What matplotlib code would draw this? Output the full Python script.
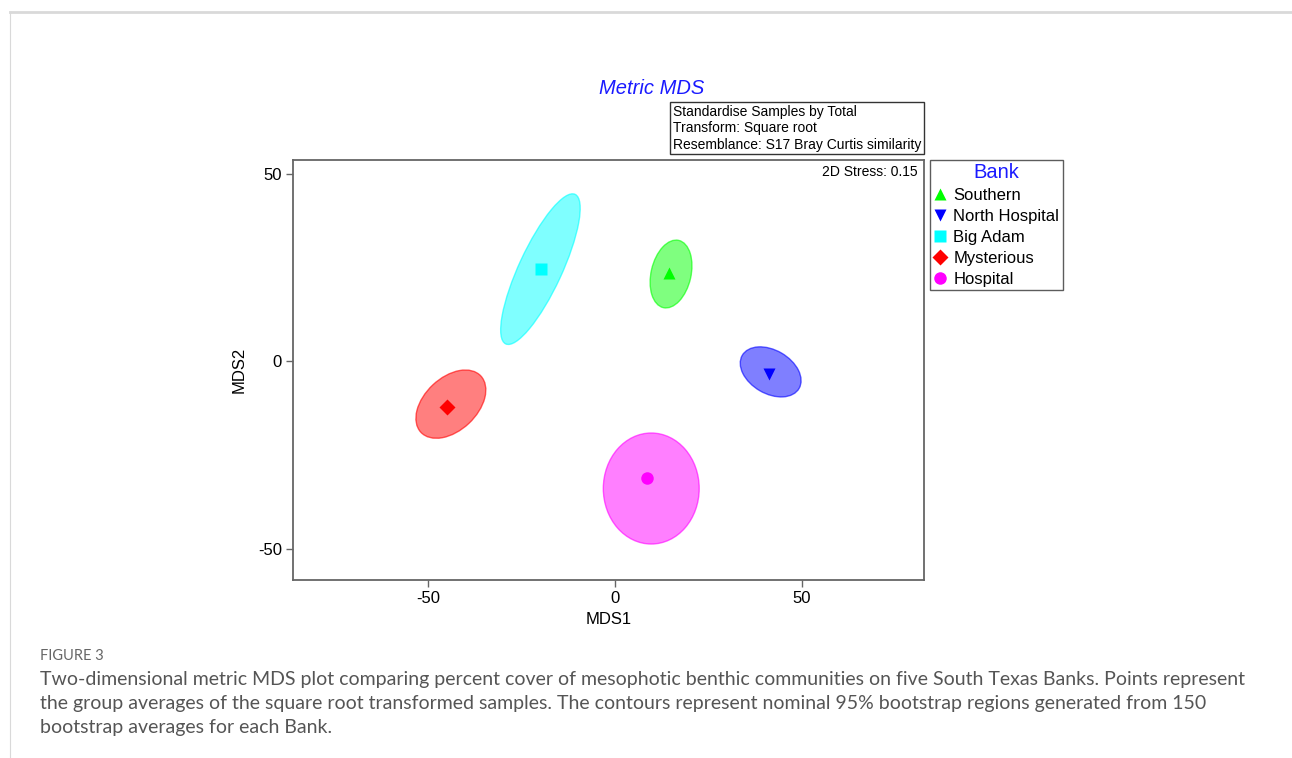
import numpy as np
import matplotlib
matplotlib.use("Agg")
import matplotlib.pyplot as plt
from matplotlib.patches import Ellipse
from matplotlib.lines import Line2D

plt.rcParams['font.family'] = ['Liberation Sans', 'DejaVu Sans']
plt.rcParams['axes.unicode_minus'] = False

# group averages (MDS1, MDS2)
banks = ["Southern", "North Hospital", "Big Adam", "Mysterious", "Hospital"]
mds1 = [14.5, 41.3, -19.8, -45.0, 8.6]
mds2 = [23.5, -3.5, 24.5, -12.3, -31.2]
colors = ["#00ff00", "#0000ff", "#00ffff", "#ff0000", "#ff00ff"]
markers = ["^", "v", "s", "D", "o"]

# bootstrap regions approximated as ellipses: centre, full width, full height, angle
reg_x = [15.0, 41.7, -20.0, -44.0, 9.7]
reg_y = [23.2, -2.9, 24.5, -11.5, -34.0]
reg_w = [18.4, 17.6, 44.0, 22.0, 25.7]
reg_h = [10.7, 11.6, 11.5, 14.1, 29.6]
reg_ang = [77, -30, 65, 43, 0]

fig = plt.figure(figsize=(12.92, 7.58), dpi=100)
ax = fig.add_axes([0.2268, 0.2348, 0.4884, 0.5541])

for i in range(len(banks)):
    e = Ellipse((reg_x[i], reg_y[i]), reg_w[i], reg_h[i], angle=reg_ang[i],
                facecolor=colors[i], alpha=0.5, edgecolor="none", zorder=1)
    ax.add_patch(e)
    e2 = Ellipse((reg_x[i], reg_y[i]), reg_w[i], reg_h[i], angle=reg_ang[i],
                 facecolor="none", edgecolor=colors[i], alpha=0.6, lw=1, zorder=2)
    ax.add_patch(e2)
    ms = 8 if markers[i] == "D" else 9
    ax.plot(mds1[i], mds2[i], marker=markers[i], color=colors[i], ms=ms,
            ls="none", mec="none", zorder=3)

ax.set_xlim(-86.3, 82.8)
ax.set_ylim(-58.4, 53.6)
ax.set_xticks([-50, 0, 50])
ax.set_yticks([-50, 0, 50])
for s in ax.spines.values():
    s.set_color("#666666")
    s.set_linewidth(1.3)
ax.tick_params(direction="out", length=5, width=1, color="#666666",
               labelsize=12, pad=3)
ax.set_xlabel("MDS1", fontsize=12, labelpad=4)
ax.set_ylabel("MDS2", fontsize=12, labelpad=8)

ax.text(0.9905, 0.971, "2D Stress: 0.15", transform=ax.transAxes,
        ha="right", va="center", fontsize=10)

ax.text(0.996, 1.02,
        "Standardise Samples by Total\nTransform: Square root\nResemblance: S17 Bray Curtis similarity",
        transform=ax.transAxes, ha="right", va="bottom", fontsize=10,
        linespacing=1.22, multialignment="left",
        bbox=dict(boxstyle="square,pad=0.2", fc="white", ec="#333333", lw=1))

fig.text(0.504, 0.8826, "Metric MDS", color="#1a1aff", style="italic",
         fontsize=14.5, ha="center", va="center")

handles = [Line2D([], [], marker=markers[i], color=colors[i], ls="none",
                  ms=9 if markers[i] != "D" else 8, mec="none")
           for i in range(len(banks))]
leg = ax.legend(handles, banks, loc="upper left", bbox_to_anchor=(1.0095, 1.0),
                borderaxespad=0, fontsize=12, title="Bank", title_fontsize=14.5,
                frameon=True, fancybox=False, handlelength=0.8,
                handletextpad=0.4, borderpad=0.2, labelspacing=0.35)
leg.get_title().set_color("#1a1aff")
leg.get_frame().set_edgecolor("#333333")
leg.get_frame().set_linewidth(1)

# page border
fig.add_artist(Line2D([10 / 1292, 1], [1 - 12 / 758, 1 - 12 / 758],
                      transform=fig.transFigure, color="#d9d9d9", lw=2))
fig.add_artist(Line2D([10 / 1292, 10 / 1292], [0, 1 - 12 / 758],
                      transform=fig.transFigure, color="#d9d9d9", lw=0.8))

fig.text(40 / 1292, 1 - 656 / 758, "FIGURE 3", fontsize=10.5, color="#666666",
         family=["Lato", "DejaVu Sans"], va="center")
caption = ("Two-dimensional metric MDS plot comparing percent cover of mesophotic benthic communities on five South Texas Banks. Points represent\n"
           "the group averages of the square root transformed samples. The contours represent nominal 95% bootstrap regions generated from 150\n"
           "bootstrap averages for each Bank.")
fig.text(40 / 1292, 1 - 671 / 758, caption, fontsize=14, color="#555555",
         family=["Lato", "DejaVu Sans"], va="top", linespacing=1.5)

fig.savefig("out.png", dpi=100)
